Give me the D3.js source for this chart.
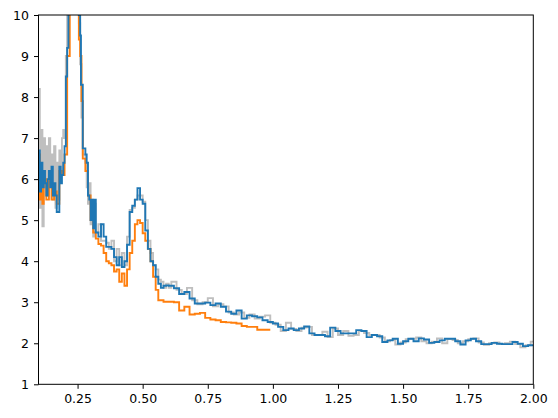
<!DOCTYPE html>
<html>
<head>
<meta charset="utf-8">
<script src="https://cdn.jsdelivr.net/npm/d3@7"></script>
<style>
  body { margin: 0; background: #fff; }
  svg { display: block; }
  .tick text { font-family: "DejaVu Sans", sans-serif; font-size: 12.5px; fill: #000; }
  .domain, .tick line { stroke: #000; }
</style>
</head>
<body>
<svg id="chart" width="558" height="418"></svg>
<script>
// axis ticks
var xTicks = [0.25, 0.5, 0.75, 1.0, 1.25, 1.5, 1.75, 2.0]
var yTicks = [1, 2, 3, 4, 5, 6, 7, 8, 9, 10]

// gray series (raw)
var grayX = [0.100, 0.105, 0.110, 0.115, 0.120, 0.125, 0.130, 0.135, 0.140, 0.145,
  0.150, 0.155, 0.160, 0.165, 0.170, 0.175, 0.180, 0.185, 0.190, 0.195,
  0.200, 0.205, 0.210, 0.230, 0.255, 0.260, 0.265, 0.270, 0.280, 0.285,
  0.290, 0.295, 0.300, 0.305, 0.310, 0.315, 0.320, 0.330, 0.340,
  0.35, 0.36, 0.37, 0.38, 0.39, 0.40, 0.41, 0.42, 0.43, 0.44, 0.45, 0.46, 0.47,
  0.48, 0.49, 0.50, 0.51, 0.52, 0.53, 0.54, 0.55, 0.56, 0.57, 0.58, 0.59, 0.60,
  0.61, 0.63, 0.65, 0.67, 0.69, 0.71, 0.73, 0.75, 0.77, 0.79, 0.81, 0.83, 0.85,
  0.87, 0.89, 0.91, 0.93, 0.95, 0.97, 0.99, 1.01, 1.03, 1.05, 1.07, 1.09, 1.11,
  1.13, 1.15, 1.17, 1.19, 1.21, 1.23, 1.25, 1.27, 1.29, 1.31, 1.33, 1.35, 1.37,
  1.39, 1.41, 1.43, 1.45, 1.47, 1.49, 1.51, 1.53, 1.55, 1.57, 1.59, 1.61, 1.63,
  1.65, 1.67, 1.69, 1.71, 1.73, 1.75, 1.77, 1.79, 1.81, 1.83, 1.85, 1.87, 1.89,
  1.91, 1.93, 1.95, 1.97, 1.99, 2.00]
var grayY = [8.2, 5.3, 7.2, 4.85, 7.0, 5.8, 6.8, 5.6, 7.0, 5.9,
  6.6, 5.5, 6.8, 5.3, 6.4, 5.5, 6.7, 6.2, 7.0, 7.2,
  7.0, 9.0, 11, 12, 9.8, 8.8, 7.5, 6.6, 6.4, 5.8,
  5.4, 5.9, 4.9, 5.5, 4.6, 5.4, 4.7, 4.9, 4.5,
  4.5, 4.45, 4.3, 4.5, 4.0, 4.3, 3.9, 4.2, 3.9, 4.6, 5.25, 5.3, 5.5,
  5.6, 5.6, 5.45, 5.0, 4.5, 4.2, 3.9, 3.8, 3.55, 3.5, 3.35, 3.45, 3.35,
  3.5, 3.3, 3.2, 3.35, 3.05, 2.95, 3.0, 3.1, 2.9, 2.95, 2.9, 2.75, 2.7,
  2.75, 2.62, 2.7, 2.6, 2.65, 2.68, 2.5, 2.45, 2.3, 2.5, 2.35, 2.3, 2.38,
  2.4, 2.2, 2.2, 2.28, 2.15, 2.36, 2.2, 2.3, 2.18, 2.2, 2.3, 2.25, 2.2,
  2.2, 2.14, 2.05, 2.08, 1.97, 2.02, 2.1, 2.11, 2.14, 2.05, 2.0, 2.04, 2.12,
  2.0, 2.1, 2.08, 2.0, 2.05, 2.1, 2.12, 2.02, 1.96, 2.0, 2.02, 1.98, 2.0,
  2.04, 1.98, 1.9, 1.95, 2.04, 2.04]

// orange series (ends near 1.0)
var orangeX = [0.100, 0.105, 0.110, 0.115, 0.120, 0.130, 0.140, 0.150, 0.160, 0.170,
  0.180, 0.190, 0.200, 0.210, 0.220, 0.255, 0.260, 0.265, 0.270, 0.280,
  0.29, 0.30, 0.31, 0.32, 0.33, 0.34, 0.35, 0.36, 0.37, 0.38, 0.39, 0.40,
  0.41, 0.42, 0.43, 0.44, 0.45, 0.46, 0.47, 0.48, 0.49, 0.50, 0.51, 0.52,
  0.53, 0.54, 0.55, 0.56, 0.57, 0.58, 0.59, 0.60, 0.62, 0.64, 0.66, 0.68,
  0.70, 0.72, 0.74, 0.76, 0.78, 0.80, 0.82, 0.84, 0.86, 0.88, 0.90, 0.92,
  0.94, 0.96, 0.98, 0.99]
var orangeY = [6.6, 5.5, 6.2, 5.4, 6.0, 5.5, 6.0, 5.5, 5.7, 5.4,
  6.2, 6.1, 6.6, 9.0, 11, 9.4, 9.0, 7.9, 6.5, 6.2,
  5.6, 5.0, 4.7, 4.55, 4.42, 4.38, 4.2, 4.0, 3.95, 3.9, 3.75, 3.8,
  3.5, 3.7, 3.4, 3.8, 4.2, 4.5, 4.9, 5.0, 4.93, 4.68, 4.5, 4.3,
  4.0, 3.62, 3.3, 3.05, 3.05, 3.01, 3.01, 3.01, 3.0, 2.8, 2.89, 2.7,
  2.72, 2.74, 2.62, 2.58, 2.56, 2.52, 2.51, 2.5, 2.48, 2.42, 2.4, 2.4,
  2.33, 2.33, 2.33, 2.33]

// blue series
var blueX = [0.100, 0.105, 0.110, 0.115, 0.120, 0.125, 0.130, 0.135, 0.140, 0.145,
  0.150, 0.155, 0.160, 0.165, 0.170, 0.180, 0.185, 0.190, 0.195, 0.200,
  0.205, 0.210, 0.215, 0.230, 0.245, 0.255, 0.260, 0.263, 0.270, 0.280,
  0.285, 0.290, 0.295, 0.300, 0.305, 0.310, 0.315, 0.320, 0.330, 0.340,
  0.35, 0.36, 0.37, 0.38, 0.39, 0.40, 0.41, 0.42, 0.43, 0.44, 0.45, 0.46,
  0.47, 0.48, 0.49, 0.50, 0.51, 0.52, 0.53, 0.54, 0.55, 0.56, 0.57, 0.58,
  0.59, 0.60, 0.62, 0.64, 0.66, 0.68, 0.70, 0.72, 0.74, 0.76, 0.78, 0.80,
  0.82, 0.84, 0.86, 0.88, 0.90, 0.92, 0.94, 0.96, 0.98, 1.00, 1.02, 1.04,
  1.06, 1.08, 1.10, 1.12, 1.14, 1.16, 1.18, 1.20, 1.22, 1.24, 1.26, 1.28,
  1.30, 1.32, 1.34, 1.36, 1.38, 1.40, 1.42, 1.44, 1.46, 1.48, 1.50, 1.52,
  1.54, 1.56, 1.58, 1.60, 1.62, 1.64, 1.66, 1.68, 1.70, 1.72, 1.74, 1.76,
  1.78, 1.80, 1.82, 1.84, 1.86, 1.88, 1.90, 1.92, 1.94, 1.96, 1.98, 2.00]
var blueY = [6.7, 5.7, 6.4, 5.8, 6.2, 5.9, 5.6, 6.0, 6.2, 5.8,
  6.3, 5.6, 5.9, 5.6, 5.2, 6.3, 5.9, 6.1, 6.4, 6.8,
  8.5, 9.2, 11, 12, 11, 10.0, 9.5, 8.3, 6.75, 6.6,
  6.4, 5.6, 5.5, 5.0, 5.5, 4.8, 5.5, 4.7, 4.6, 4.9,
  4.6, 4.35, 4.35, 4.3, 4.1, 3.9, 4.1, 3.86, 4.0, 4.4, 5.2, 5.35,
  5.5, 5.78, 5.5, 5.4, 4.75, 4.3, 4.0, 3.9, 3.62, 3.45, 3.35, 3.4,
  3.41, 3.4, 3.34, 3.2, 3.25, 3.09, 2.97, 2.97, 2.99, 2.93, 2.97, 2.89,
  2.77, 2.72, 2.8, 2.6, 2.68, 2.66, 2.63, 2.56, 2.52, 2.48, 2.4, 2.32,
  2.36, 2.32, 2.36, 2.41, 2.24, 2.2, 2.2, 2.17, 2.38, 2.3, 2.24, 2.24,
  2.24, 2.32, 2.3, 2.15, 2.2, 2.17, 2.03, 2.07, 2.11, 1.99, 2.05, 2.11,
  2.05, 2.12, 2.09, 2.01, 2.03, 2.07, 2.11, 2.11, 2.05, 1.97, 2.07, 2.11,
  2.05, 1.98, 1.98, 2.01, 1.99, 1.98, 1.98, 2.03, 1.99, 1.93, 1.95, 1.95]

var svg = d3.select("#chart")
var plotL = 38.5, plotR = 533.3, plotT = 15, plotB = 384.3

var x = d3.scaleLinear().domain([0.1, 2.0]).range([plotL, plotR])
var y = d3.scaleLinear().domain([1, 10]).range([plotB, plotT])

svg.append("defs").append("clipPath").attr("id", "plot")
  .append("rect")
  .attr("x", plotL).attr("y", plotT)
  .attr("width", plotR - plotL).attr("height", plotB - plotT)

var line = d3.line()
  .x(function(d) { return x(d[0]) })
  .y(function(d) { return y(d[1]) })
  .curve(d3.curveStepAfter)

var series = [
  {xs: grayX, ys: grayY, color: "#bfbfbf"},
  {xs: orangeX, ys: orangeY, color: "#ff7f0e"},
  {xs: blueX, ys: blueY, color: "#1f77b4"}
]

var g = svg.append("g").attr("clip-path", "url(#plot)")
series.forEach(function(s) {
  g.append("path")
    .datum(d3.zip(s.xs, s.ys))
    .attr("fill", "none")
    .attr("stroke", s.color)
    .attr("stroke-width", 1.9)
    .attr("d", line)
})

// axes
svg.append("g")
  .attr("transform", "translate(0," + plotB + ")")
  .call(d3.axisBottom(x).tickValues(xTicks).tickFormat(d3.format(".2f")).tickSize(4.5).tickPadding(5))

svg.append("g")
  .attr("transform", "translate(" + plotL + ",0)")
  .call(d3.axisLeft(y).tickValues(yTicks).tickFormat(d3.format("d")).tickSize(4.5).tickPadding(5))

svg.selectAll(".domain").remove()

// frame
svg.append("rect")
  .attr("x", plotL).attr("y", plotT)
  .attr("width", plotR - plotL).attr("height", plotB - plotT)
  .attr("fill", "none").attr("stroke", "#000").attr("stroke-width", 1)
</script>
</body>
</html>
